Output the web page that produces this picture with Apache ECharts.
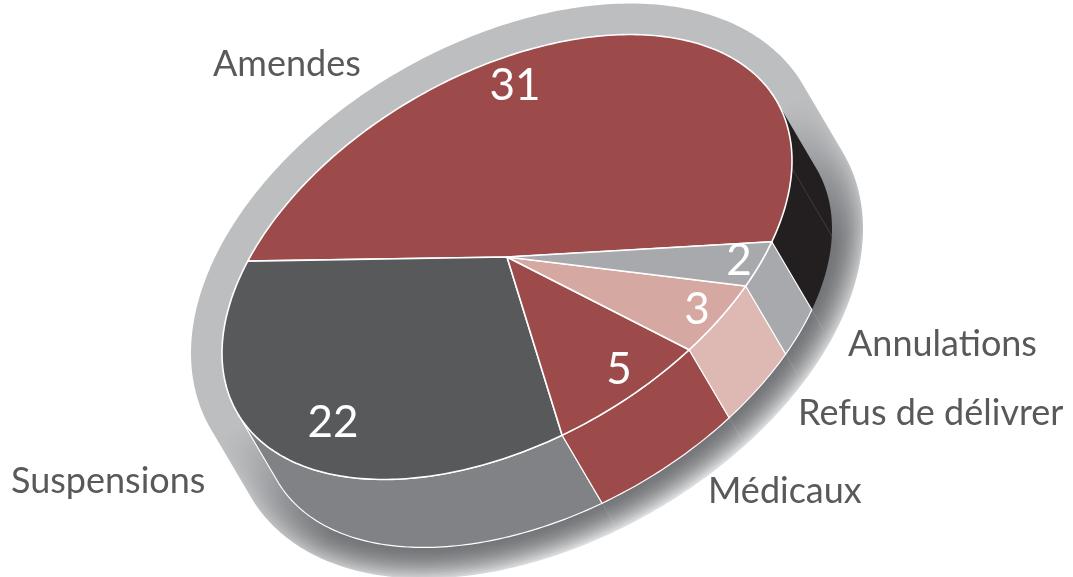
<!DOCTYPE html>
<html><head><meta charset="utf-8">
<style>html,body{margin:0;padding:0;background:#fff}#c{width:1073px;height:577px}</style>
<script src="https://cdn.jsdelivr.net/npm/echarts@6/dist/echarts.min.js"></script>
</head><body><div id="c"></div>
<script>
const categories = ['Amendes','Suspensions','Médicaux','Refus de délivrer','Annulations'];
const values = [31,22,5,3,2];
const topColors = ['#9d4a4a','#58595b','#9d4a4a','#d5a8a2','#a7a9ac'];
const wallColors = ['#231f20','#808285','#9d4a4a','#deb8b3','#a7a9ac'];
const valueLabelPos = [[515,86],[333,423],[619,370],[697,310],[739,261]];
const nameLabelPos = [[213,64],[11,481],[708,491],[798,413],[848,344]];

// Projection of the tilted pie: unit circle -> ellipse, plus extrusion vector
const C = [507,257], AX = [285,-96.2], BY = 200.6, EXT = [40,68];
const START = 21.7, VIS = [-19,161];
const total = values.reduce((a,b)=>a+b,0);
const rad = d => d*Math.PI/180;
const pt = (t,off) => {
  const c=Math.cos(rad(t)), s=Math.sin(rad(t));
  return [C[0]+AX[0]*c+(off?EXT[0]:0), C[1]+AX[1]*c+BY*s+(off?EXT[1]:0)];
};
const arc = (a,b,off) => {
  const n=Math.max(2,Math.ceil(Math.abs(a-b))), r=[];
  for(let i=0;i<=n;i++) r.push(pt(a+(b-a)*i/n,off));
  return r;
};
let acc=START;
const slices = values.map(v=>{const hi=acc; acc-=v/total*360; return [hi,acc];});

function mix(c1,c2,f){
  const p=c=>[1,3,5].map(i=>parseInt(c.substr(i,2),16));
  const a=p(c1),b=p(c2);
  return 'rgb('+a.map((x,i)=>Math.round(x+(b[i]-x)*f)).join(',')+')';
}
const n=[0.507,0.861];
function bandRender(){
  const hull=arc(VIS[0],VIS[1],true).concat(arc(VIS[1],VIS[0]+360,false));
  const kids=[];
  for(let w=62;w>=2;w-=3){
    const f=Math.pow(w/62,1.7);
    const grad={type:'linear',global:true,x:C[0]+n[0]*10,y:C[1]+n[1]*10,x2:C[0]+n[0]*330,y2:C[1]+n[1]*330,
      colorStops:[
        {offset:0,color:'#bcbec0'},
        {offset:0.18,color:mix('#a0a1a4','#bcbec0',f)},
        {offset:0.45,color:mix('#747578','#bcbec0',f)},
        {offset:1,color:mix('#747578','#e6e7e8',f)}
      ]};
    kids.push({type:'polygon',shape:{points:hull},
      style:{fill:grad,stroke:grad,lineWidth:w,lineJoin:'round'}});
  }
  slices.forEach(s=>{
    let t=s[1]; if(t<VIS[0]) t+=360;
    if(t>VIS[0]&&t<VIS[1]){
      const a=pt(t,true);
      kids.push({type:'line',shape:{x1:a[0],y1:a[1],x2:a[0]+EXT[0]*0.3,y2:a[1]+EXT[1]*0.3},
        style:{stroke:'rgba(255,255,255,0.12)',lineWidth:1}});
    }
  });
  return {type:'group',children:kids};
}
function wallRender(params){
  const i=params.dataIndex, [hi,lo]=slices[i], kids=[];
  [0,360].forEach(shift=>{
    const h=Math.min(hi+shift,VIS[1]), l=Math.max(lo+shift,VIS[0]);
    if(h>l){
      kids.push({type:'polygon',shape:{points:arc(h,l,false).concat(arc(l,h,true))},
        style:{fill:wallColors[i],stroke:i===0?null:'#fff',lineWidth:1.2,lineJoin:'round'}});
      if(i===0){
        const a=pt(2,false),b=pt(2,true);
        kids.push({type:'line',shape:{x1:a[0],y1:a[1],x2:b[0],y2:b[1]},
          style:{stroke:'rgba(255,255,255,0.18)',lineWidth:0.7}});
      }
    }
  });
  return {type:'group',children:kids};
}
function topRender(params){
  const i=params.dataIndex,[hi,lo]=slices[i];
  return {type:'polygon',shape:{points:[C].concat(arc(hi,lo,false))},
    style:{fill:topColors[i],stroke:'#fff',lineWidth:1.6,lineJoin:'round'}};
}
function labelRender(params,api){
  const i=params.dataIndex;
  return {type:'group',children:[
    {type:'text',x:valueLabelPos[i][0],y:valueLabelPos[i][1],
      style:{text:String(api.value(0)),fill:'#fff',font:'44px Lato',align:'center',verticalAlign:'middle'}},
    {type:'text',x:nameLabelPos[i][0],y:nameLabelPos[i][1],
      style:{text:categories[i],fill:'#58595b',font:'36px Lato',align:'left',verticalAlign:'middle'}}
  ]};
}
const rows=categories.map((name,i)=>({name,value:[values[i]]}));
const chart=echarts.init(document.getElementById('c'),null,{renderer:'canvas'});
chart.setOption({
  animation:false,backgroundColor:'#fff',tooltip:{show:false},
  series:[
    {type:'custom',name:'socle',coordinateSystem:'none',silent:true,renderItem:bandRender,data:[[1]],z:1},
    {type:'custom',name:'parois',coordinateSystem:'none',silent:true,renderItem:wallRender,data:rows,z:2},
    {type:'custom',name:'parts',coordinateSystem:'none',silent:true,renderItem:topRender,data:rows,z:3},
    {type:'custom',name:'etiquettes',coordinateSystem:'none',silent:true,renderItem:labelRender,data:rows,z:4}
  ]
});
</script></body></html>
